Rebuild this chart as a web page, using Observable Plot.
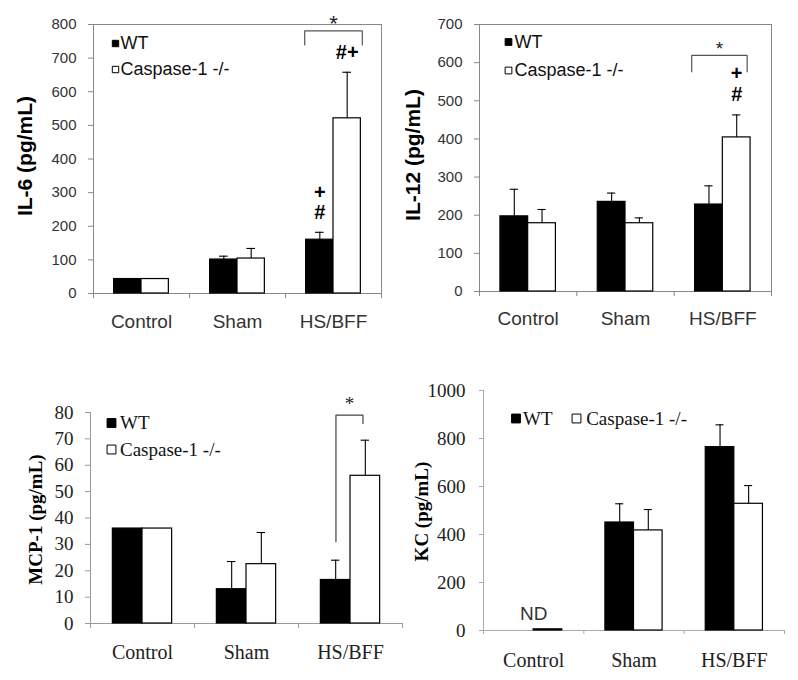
<!DOCTYPE html>
<html>
<head>
<meta charset="utf-8">
<script src="https://cdn.jsdelivr.net/npm/d3@7"></script>
<script src="https://cdn.jsdelivr.net/npm/@observablehq/plot@0.6"></script>
<style>
  body { margin: 0; background: #fff; }
  #fig { position: relative; width: 798px; height: 680px; overflow: hidden; background: #fff; }
  #fig > svg { position: absolute; }
</style>
</head>
<body>
<div id="fig"></div>
<script>
// ---------- data ----------
const categories = ["Control", "Sham", "HS/BFF"];
const series = ["WT", "Caspase-1 -/-"];

// IL-6 (pg/mL): bar means and upper error-bar ends
const il6WT = [43, 101, 160];
const il6WTErr = [43, 111, 182];
const il6Casp = [43, 104, 521];
const il6CaspErr = [43, 134, 658];
const il6Ticks = [0, 100, 200, 300, 400, 500, 600, 700, 800];

// IL-12 (pg/mL)
const il12WT = [197, 235, 228];
const il12WTErr = [268, 258, 277];
const il12Casp = [179, 179, 404];
const il12CaspErr = [215, 193, 463];
const il12Ticks = [0, 100, 200, 300, 400, 500, 600, 700];

// MCP-1 (pg/mL)
const mcpWT = [36, 13, 16.5];
const mcpWTErr = [36, 23.5, 24];
const mcpCasp = [36, 22.5, 56];
const mcpCaspErr = [36, 34.5, 69.5];
const mcpTicks = [0, 10, 20, 30, 40, 50, 60, 70, 80];

// KC (pg/mL) — WT control not detected
const kcWT = [null, 450, 764];
const kcWTErr = [null, 528, 857];
const kcCasp = [5, 417, 528];
const kcCaspErr = [null, 504, 604];
const kcTicks = [0, 200, 400, 600, 800, 1000];

// annotations
const il6Notes = [
  {category: "HS/BFF", series: "WT", label: "#", row: 0},
  {category: "HS/BFF", series: "WT", label: "+", row: 1},
  {category: "HS/BFF", series: "Caspase-1 -/-", label: "#+", row: 0}
];
const il12Notes = [
  {category: "HS/BFF", series: "Caspase-1 -/-", label: "#", row: 0},
  {category: "HS/BFF", series: "Caspase-1 -/-", label: "+", row: 1}
];
const il6Sig = [{category: "HS/BFF", top: 781, leftEnd: 739, rightEnd: 739}];
const il12Sig = [{category: "HS/BFF", top: 619, leftEnd: 576, rightEnd: 576}];
const mcpSig = [{category: "HS/BFF", top: 79, leftEnd: 31, rightEnd: 75.8}];
const kcLabels = [{category: "Control", label: "ND"}];

// ---------- drawing ----------
const SANS = "'Liberation Sans', Arial, Helvetica, sans-serif";
const SERIF = "'Liberation Serif', 'Times New Roman', Times, serif";
const W = 0.285; // bar width as a fraction of a category band

function makePanel(c) {
  const rows = [];
  categories.forEach((cat, i) => {
    rows.push({cat, i, s: 0, v: c.wt[i], e: c.wtErr[i]});
    rows.push({cat, i, s: 1, v: c.casp[i], e: c.caspErr[i]});
  });
  const left = d => d.i + 0.5 - (d.s === 0 ? W : 0);
  const right = d => d.i + 0.5 + (d.s === 1 ? W : 0);
  const mid = d => d.i + 0.5 + (d.s === 0 ? -W / 2 : W / 2);
  const bars = rows.filter(d => d.v != null);
  const errs = rows.filter(d => d.e != null && d.e > d.v);
  const marks = [];

  if (c.box) {
    marks.push(Plot.frame({stroke: c.axisColor}));
  } else {
    marks.push(Plot.ruleX([0], {stroke: c.axisColor}));
    marks.push(Plot.ruleY([0], {stroke: c.axisColor}));
  }
  marks.push(Plot.axisY(c.yTicks, {
    tickSize: c.tickSize, tickPadding: c.tickPad, stroke: c.axisColor,
    fill: c.textColor, fontSize: c.tickFont, label: null, tickFormat: d => String(d)
  }));
  marks.push(Plot.axisX([0, 1, 2, 3], {
    tickSize: c.tickSize, stroke: c.axisColor, tickFormat: () => "", label: null
  }));
  marks.push(Plot.text(categories, {
    x: (d, i) => i + 0.5, frameAnchor: "bottom", lineAnchor: "middle", dy: c.catDy,
    text: d => d, fontSize: c.catFont, fill: c.textColor
  }));

  // bars
  marks.push(Plot.rect(bars.filter(d => d.s === 0), {
    x1: left, x2: right, y1: 0, y2: d => d.v, fill: "black", stroke: "black", strokeWidth: 1.2
  }));
  marks.push(Plot.rect(bars.filter(d => d.s === 1), {
    x1: left, x2: right, y1: 0, y2: d => d.v, fill: "white", stroke: "black", strokeWidth: 1.2
  }));
  // error bars (upper only)
  marks.push(Plot.ruleX(errs, {x: mid, y1: d => d.v, y2: d => d.e, stroke: "black", strokeWidth: 1.1}));
  marks.push(Plot.ruleY(errs, {y: d => d.e, x1: d => mid(d) - c.cap, x2: d => mid(d) + c.cap, stroke: "black", strokeWidth: 1.1}));

  // legend
  series.forEach((s, k) => {
    const L = c.legend[k];
    marks.push(Plot.dot([s], {
      frameAnchor: "top-left", dx: L.sx, dy: L.y, symbol: "square", r: c.legR,
      fill: k === 0 ? "black" : "white", stroke: "black", strokeWidth: 1
    }));
    marks.push(Plot.text([s], {
      frameAnchor: "top-left", lineAnchor: "middle", dx: L.tx, dy: L.y, text: d => d,
      textAnchor: "start", fontSize: c.legFont, fill: "#111"
    }));
  });

  // "#" / "+" marks above error bars, one mark per stacking row
  if (c.notes) {
    const find = n => rows.find(r => r.cat === n.category && r.s === series.indexOf(n.series));
    for (const [row, grp] of d3.groups(c.notes, n => n.row)) {
      marks.push(Plot.text(grp, {
        x: n => mid(find(n)), y: n => find(n).e, text: n => n.label,
        dy: -(c.noteBase + row * c.noteStep), fontWeight: "bold", fontSize: c.noteFont,
        fill: "black", fontFamily: SANS
      }));
    }
  }
  // significance brackets
  if (c.sig) {
    c.sig.forEach(g => {
      const i = categories.indexOf(g.category);
      const a = i + c.sigX[0], b = i + c.sigX[1];
      const pts = [{x: a, y: g.leftEnd}, {x: a, y: g.top}, {x: b, y: g.top}, {x: b, y: g.rightEnd}];
      marks.push(Plot.line(pts, {x: "x", y: "y", stroke: c.sigColor, strokeWidth: 1.2, strokeLinejoin: "round"}));
      marks.push(Plot.text([g], {x: (a + b) / 2, y: g.top, dy: -c.starDy, text: () => "*", fontSize: c.starFont, fill: "#222"}));
    });
  }
  if (c.labels) {
    marks.push(Plot.text(c.labels, {
      x: d => categories.indexOf(d.category) + 0.5, y: 0, dy: -17, text: d => d.label,
      fontFamily: SANS, fontSize: 19, fill: "#333"
    }));
  }
  // y title
  marks.push(Plot.text([c.title], {
    frameAnchor: "left", lineAnchor: "middle", textAnchor: "middle", rotate: -90,
    dx: c.titleDx, dy: c.titleDy, text: d => d,
    fontWeight: "bold", fontSize: c.titleFont, fill: "black"
  }));

  const svg = Plot.plot({
    width: c.width, height: c.height,
    marginTop: c.margin[0], marginRight: c.margin[1], marginBottom: c.margin[2], marginLeft: c.margin[3],
    x: {domain: [0, 3], axis: null},
    y: {domain: [c.yTicks[0], c.yTicks[c.yTicks.length - 1]], axis: null},
    style: {fontFamily: c.font, fontSize: c.tickFont + "px", background: "transparent", overflow: "visible", color: "#333"},
    marks
  });
  svg.style.left = c.left + "px";
  svg.style.top = c.top + "px";
  return svg;
}

const configs = [
  {
    left: 0, top: 0, width: 400, height: 340, margin: [24, 19, 47, 93],
    wt: il6WT, wtErr: il6WTErr, casp: il6Casp, caspErr: il6CaspErr, yTicks: il6Ticks,
    box: true, axisColor: "#888", textColor: "#333", font: SANS,
    tickSize: 5, tickPad: 12, tickFont: 15, catFont: 19, catDy: 28,
    legend: [{sx: 22, tx: 27, y: 19}, {sx: 22, tx: 27, y: 45}], legR: 3.6, legFont: 18,
    title: "IL-6 (pg/mL)", titleDx: -68, titleDy: -3, titleFont: 21,
    cap: 0.045, notes: il6Notes, noteBase: 20, noteStep: 20, noteFont: 20,
    sig: il6Sig, sigX: [0.2, 0.8], sigColor: "#555", starDy: 7, starFont: 22
  },
  {
    left: 400, top: 0, width: 398, height: 340, margin: [24, 27, 49, 79],
    wt: il12WT, wtErr: il12WTErr, casp: il12Casp, caspErr: il12CaspErr, yTicks: il12Ticks,
    box: true, axisColor: "#888", textColor: "#333", font: SANS,
    tickSize: 5, tickPad: 12, tickFont: 15, catFont: 19, catDy: 27,
    legend: [{sx: 29, tx: 35, y: 17.5}, {sx: 29, tx: 35, y: 46}], legR: 3.8, legFont: 18,
    title: "IL-12 (pg/mL)", titleDx: -66.6, titleDy: -3, titleFont: 21,
    cap: 0.042, notes: il12Notes, noteBase: 20, noteStep: 21, noteFont: 20,
    sig: il12Sig, sigX: [0.18, 0.75], sigColor: "#555", starDy: 6, starFont: 19
  },
  {
    left: 0, top: 340, width: 404, height: 340, margin: [72, 2, 57, 90],
    wt: mcpWT, wtErr: mcpWTErr, casp: mcpCasp, caspErr: mcpCaspErr, yTicks: mcpTicks,
    box: false, axisColor: "#999", textColor: "#222", font: SERIF,
    tickSize: 5, tickPad: 12, tickFont: 19, catFont: 20, catDy: 29,
    legend: [{sx: 21, tx: 29.5, y: 10.5}, {sx: 21, tx: 29.5, y: 37}], legR: 5, legFont: 19,
    title: "MCP-1 (pg/mL)", titleDx: -55, titleDy: 1.5, titleFont: 19,
    cap: 0.04, sig: mcpSig, sigX: [0.36, 0.62], sigColor: "#444", starDy: 11, starFont: 19
  },
  {
    left: 400, top: 340, width: 398, height: 340, margin: [50, 14, 50, 83],
    wt: kcWT, wtErr: kcWTErr, casp: kcCasp, caspErr: kcCaspErr, yTicks: kcTicks,
    box: false, axisColor: "#aaa", textColor: "#222", font: SERIF,
    tickSize: 4, tickPad: 14, tickFont: 19, catFont: 20, catDy: 30,
    legend: [{sx: 32.5, tx: 39.5, y: 28}, {sx: 93, tx: 102.7, y: 28}], legR: 5, legFont: 19,
    title: "KC (pg/mL)", titleDx: -61.6, titleDy: 1, titleFont: 19,
    cap: 0.04, labels: kcLabels
  }
];

const fig = document.getElementById("fig");
for (const c of configs) fig.appendChild(makePanel(c));
</script>
</body>
</html>
